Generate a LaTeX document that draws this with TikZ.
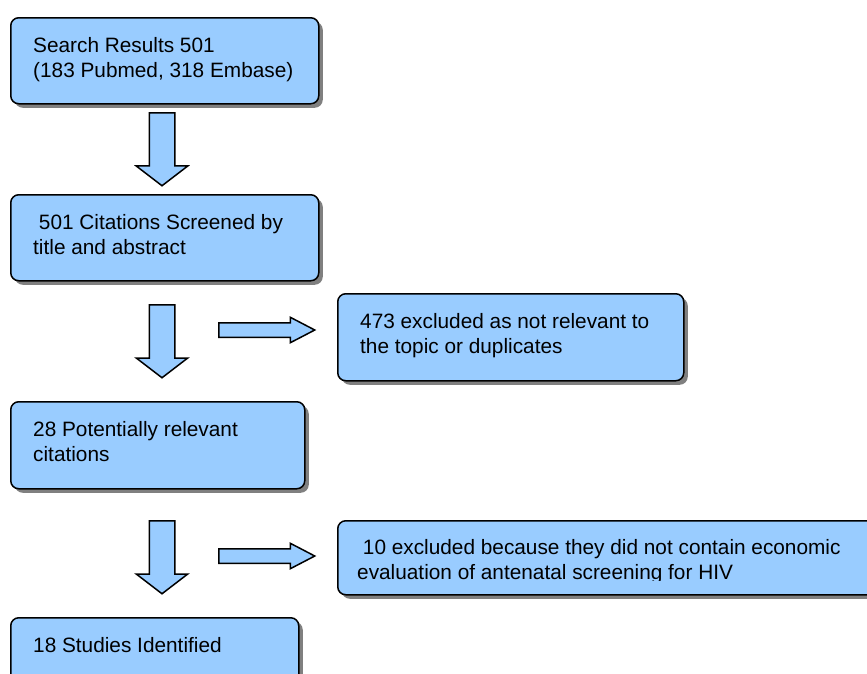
\documentclass[tikz,border=0pt]{standalone}
\usepackage{fontspec}
\setmainfont{Liberation Sans}
\usetikzlibrary{shapes.arrows}
\usetikzlibrary{shadows}
\usetikzlibrary{positioning}
\definecolor{BoxBlue}{HTML}{99CCFF}
\definecolor{ShadowGray}{HTML}{808080}
\tikzstyle{box}=[rectangle,draw=black,fill=BoxBlue,line width=1.5pt,rounded corners=8pt,anchor=north west,inner sep=0pt,drop shadow={shadow xshift=4pt,shadow yshift=-4pt,fill=ShadowGray,opacity=1}]
\tikzstyle{txt}=[inner sep=0pt,align=left,font=\fontsize{20.8}{25.5}\selectfont]
\tikzstyle{downarrow}=[single arrow,draw=black,fill=BoxBlue,line width=1.5pt,shape border rotate=270,minimum height=73pt,inner sep=12pt,single arrow head extend=13pt,single arrow tip angle=105,anchor=tail]
\tikzstyle{rightarrow}=[single arrow,draw=black,fill=BoxBlue,line width=1.5pt,minimum height=96pt,inner sep=6.5pt,single arrow head extend=5.5pt,single arrow tip angle=55,anchor=tail]

\begin{document}
\begin{tikzpicture}[x=1pt,y=-1pt]
    \useasboundingbox (0,0) rectangle (867,673);

    \node [box,minimum width=308pt,minimum height=86pt] (Search) at (10,17) {};
    \node [box,minimum width=308pt,minimum height=86pt] (Screened) at (10,194) {};
    \node [box,minimum width=346pt,minimum height=87pt] (Excluded A) at (337,293) {};
    \node [box,minimum width=294pt,minimum height=87pt] (Relevant) at (10,401) {};
    \node [box,minimum width=560pt,minimum height=74pt] (Excluded B) at (337,520) {};
    \node [box,minimum width=288pt,minimum height=87pt] (Studies) at (10,617) {};

    \node [txt,below right=20pt and 23pt of Search.north west] (Search Text) {Search Results 501\\(183 Pubmed, 318 Embase)};
    \node [txt,below right=20pt and 23pt of Screened.north west] (Screened Text) {\ 501 Citations Screened by\\title and abstract};
    \node [txt,below right=20pt and 23pt of Excluded A.north west] (Excluded A Text) {473 excluded as not relevant to\\the topic or duplicates};
    \node [txt,below right=20pt and 23pt of Relevant.north west] (Relevant Text) {28 Potentially relevant\\citations};
    \begin{scope}
      % text runs past the bottom of its frame
      \clip (337,520) rectangle (867,580);
      \node [txt,below right=19pt and 20pt of Excluded B.north west] (Excluded B Text) {\ 10 excluded because they did not contain economic\\evaluation of antenatal screening for HIV};
    \end{scope}
    \node [txt,below right=20pt and 23pt of Studies.north west] (Studies Text) {18 Studies Identified};

    \node [downarrow] (Down A) at (162,112) {};
    \node [downarrow] (Down B) at (162,304) {};
    \node [downarrow] (Down C) at (162,520) {};
    \node [rightarrow] (Right A) at (218,330) {};
    \node [rightarrow] (Right B) at (218,556) {};
\end{tikzpicture}
\end{document}
